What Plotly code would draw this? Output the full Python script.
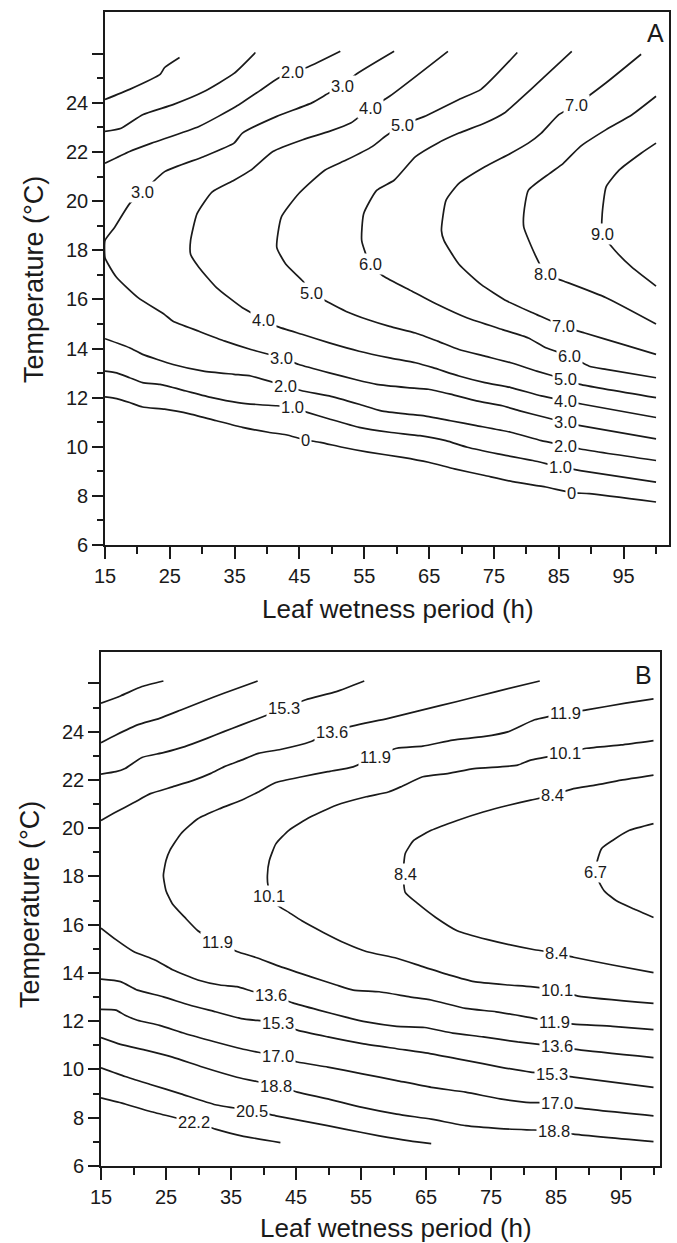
import plotly.graph_objects as go

# ---------------- Panel A: contour lines (leaf wetness h, temperature C) ----------------
a0u_h = [15, 18.8, 23.5, 24.2, 26.5]
a0u_t = [24.14, 24.55, 25.16, 25.44, 25.85]
a0l_h = [15, 16.8, 18.8, 20.8, 24.2, 28.2, 32.2, 36.2, 40.2, 42.9, 45.9, 48.2, 51.6, 55.6, 60.9, 64.9, 68.9, 73.6, 78.3, 83.0, 87.0, 89.7, 100]
a0l_t = [12.03, 11.96, 11.80, 11.62, 11.53, 11.33, 11.06, 10.79, 10.59, 10.49, 10.28, 10.18, 9.98, 9.78, 9.57, 9.37, 9.10, 8.83, 8.56, 8.36, 8.13, 8.09, 7.75]
a1u_h = [15, 17.5, 20.8, 25.5, 30.2, 34.9, 38.2]
a1u_t = [22.84, 22.97, 23.52, 23.93, 24.45, 25.2, 26.05]
a1l_h = [15, 16.8, 18.8, 20.8, 23.5, 27.5, 31.5, 35.5, 38.9, 41.5, 43.9, 46.2, 49.6, 54.2, 58.9, 63.6, 67.6, 70.9, 75.6, 81.0, 85.3, 88.3, 100]
a1l_t = [13.08, 13.01, 12.81, 12.61, 12.54, 12.27, 12.00, 11.80, 11.71, 11.67, 11.60, 11.40, 11.13, 10.79, 10.59, 10.45, 10.25, 9.98, 9.71, 9.44, 9.17, 9.03, 8.56]
a2u_h = [15, 18.8, 22.2, 29.5, 35.2, 38.9, 41.7, 43.9, 46.3, 51.3]
a2u_t = [21.54, 22.02, 22.36, 23.04, 23.85, 24.5, 25.0, 25.26, 25.46, 26.1]
a2l_h = [15, 18.8, 20.8, 25.5, 30.2, 34.9, 37.5, 40.2, 42.9, 45.5, 49.6, 54.2, 57.6, 61.6, 64.3, 68.3, 72.3, 77.6, 82.3, 86.0, 88.3, 100]
a2l_t = [14.40, 14.03, 13.76, 13.35, 13.08, 12.95, 12.88, 12.68, 12.47, 12.27, 12.07, 11.73, 11.46, 11.33, 11.26, 11.06, 10.86, 10.59, 10.25, 10.05, 9.91, 9.44]
a3_h = [59.6, 53.6, 51.6, 49.6, 46.9, 41.5, 36.2, 34.9, 30.2, 24.2, 20.8, 18.8, 16.5, 15.0, 15.0, 15.5, 16.8, 20.1, 24.2, 25.5, 29.5, 33.5, 37.5, 42.2, 44.9, 49.6, 53.6, 56.9, 61.6, 64.9, 68.3, 72.3, 76.3, 79.0, 83.0, 86.0, 88.3, 100]
a3_t = [26.1, 25.14, 24.68, 24.41, 24.0, 23.45, 22.77, 22.36, 21.81, 21.20, 20.37, 19.90, 18.94, 18.4, 17.7, 17.43, 16.89, 16.07, 15.38, 15.11, 14.70, 14.30, 13.96, 13.62, 13.35, 13.01, 12.74, 12.54, 12.41, 12.34, 12.14, 11.87, 11.67, 11.46, 11.19, 10.99, 10.86, 10.32]
a4_h = [67.9, 58.9, 55.9, 52.9, 49.6, 45.5, 40.9, 37.5, 34.9, 31.5, 29.2, 28.2, 28.2, 29.5, 32.2, 36.2, 39.5, 41.5, 45.5, 49.6, 54.2, 58.9, 62.9, 65.6, 69.6, 73.6, 77.6, 82.3, 86.0, 88.7, 100]
a4_t = [26.1, 24.27, 23.78, 23.18, 22.84, 22.50, 22.02, 21.26, 20.85, 20.37, 19.49, 18.39, 17.84, 17.30, 16.48, 15.66, 15.18, 14.90, 14.57, 14.23, 13.89, 13.62, 13.42, 13.22, 12.88, 12.61, 12.41, 12.07, 11.87, 11.73, 11.19]
a5_h = [78.6, 73.0, 69.6, 64.3, 60.9, 58.2, 56.2, 52.2, 48.9, 44.9, 42.2, 41.5, 42.9, 45.5, 46.9, 49.6, 52.2, 55.6, 58.9, 62.9, 66.3, 69.6, 73.6, 77.6, 81.6, 86.0, 88.3, 100]
a5_t = [26.05, 24.55, 24.14, 23.45, 23.11, 22.63, 22.22, 21.67, 21.26, 20.31, 19.35, 18.12, 17.43, 16.75, 16.27, 15.86, 15.51, 15.17, 14.90, 14.63, 14.30, 13.96, 13.69, 13.42, 13.08, 12.74, 12.54, 12.00]
a6_h = [87.0, 82.6, 79.0, 76.6, 73.6, 69.6, 66.3, 62.9, 59.6, 56.9, 54.9, 54.6, 55.9, 57.9, 62.3, 66.3, 70.9, 76.3, 80.3, 83.0, 86.7, 89.7, 92.3, 100]
a6_t = [26.1, 25.02, 24.14, 23.59, 23.18, 22.77, 22.36, 21.81, 20.85, 20.44, 19.49, 18.39, 17.43, 16.95, 16.34, 15.79, 15.24, 14.77, 14.43, 14.03, 13.69, 13.28, 13.15, 12.81]
a7_h = [97.7, 92.3, 87.7, 85.0, 82.3, 80.3, 77.6, 73.6, 69.6, 67.6, 66.9, 67.3, 69.6, 73.0, 77.0, 81.6, 85.7, 89.0, 95.0, 100]
a7_t = [25.98, 24.82, 23.93, 23.52, 22.77, 22.36, 21.95, 21.40, 20.72, 20.03, 18.80, 18.39, 17.43, 16.61, 15.93, 15.38, 14.90, 14.63, 14.16, 13.76]
a8_h = [100, 96.3, 92.3, 88.3, 85.7, 83.6, 80.3, 79.6, 79.6, 81.3, 83.0, 85.7, 92.3, 100]
a8_t = [24.27, 23.52, 22.91, 22.22, 21.54, 21.13, 20.44, 19.49, 18.94, 17.84, 17.02, 16.75, 16.07, 15.0]
a9_h = [100, 97.7, 94.3, 92.3, 91.7, 91.7, 93.7, 96.3, 100]
a9_t = [22.36, 21.95, 21.26, 20.58, 19.49, 18.66, 17.98, 17.30, 16.54]

a_lab_txt = ["2.0", "3.0", "4.0", "5.0", "7.0", "3.0", "9.0", "6.0", "8.0", "5.0", "4.0", "7.0",
             "3.0", "6.0", "2.0", "5.0", "1.0", "4.0", "0", "3.0", "2.0", "1.0", "0"]
a_lab_h = [43.9, 51.6, 55.9, 60.9, 87.7, 20.8, 91.7, 55.9, 83.0, 46.9, 39.5, 85.7,
           42.2, 86.7, 42.9, 86.0, 43.9, 86.0, 45.9, 86.0, 86.0, 85.3, 87.0]
a_lab_t = [25.26, 24.68, 23.78, 23.11, 23.93, 20.37, 18.66, 17.43, 17.02, 16.27, 15.18, 14.90,
           13.62, 13.69, 12.47, 12.74, 11.60, 11.87, 10.28, 10.99, 10.05, 9.17, 8.13]

# ---------------- Panel B ----------------
b188u_h = [15, 18.0, 21.3, 24.6]
b188u_t = [25.18, 25.48, 25.87, 26.1]
b170u_h = [15, 17.3, 20.6, 24.0, 27.3, 30.6, 33.9, 39.1]
b170u_t = [23.54, 23.86, 24.28, 24.55, 24.90, 25.25, 25.59, 26.1]
b153u_h = [15, 17.3, 18.7, 21.3, 24.6, 27.9, 31.3, 33.9, 36.6, 39.9, 43.2, 46.5, 51.2, 55.5]
b153u_t = [22.24, 22.34, 22.47, 22.93, 23.13, 23.38, 23.72, 24.0, 24.28, 24.62, 24.97, 25.32, 25.66, 26.1]
b136u_h = [15, 17.3, 20.0, 22.6, 26.0, 29.3, 31.9, 33.9, 36.6, 39.2, 42.6, 47.2, 50.5, 53.8, 59.2, 64.5, 69.8, 75.8, 82.5]
b136u_t = [20.32, 20.67, 21.05, 21.43, 21.71, 21.99, 22.27, 22.54, 22.82, 23.10, 23.26, 23.58, 24.0, 24.24, 24.55, 24.90, 25.25, 25.66, 26.1]
b119_h = [100, 95.7, 89.7, 86.4, 81.7, 77.7, 73.8, 69.1, 64.5, 60.5, 57.2, 53.8, 49.9, 45.9, 41.9, 39.2, 36.6, 33.3, 29.9, 27.3, 25.6, 25.0, 24.6, 25.0, 26.0, 27.9, 29.9, 32.9, 35.9, 39.2, 42.6, 47.2, 51.2, 53.8, 57.8, 62.5, 65.8, 71.1, 75.8, 80.4, 84.7, 87.7, 93.7, 100]
b119_t = [25.36, 25.18, 24.90, 24.76, 24.49, 24.0, 23.79, 23.65, 23.40, 23.31, 22.96, 22.54, 22.34, 22.13, 21.89, 21.50, 21.16, 20.81, 20.39, 19.77, 19.08, 18.66, 18.04, 17.41, 16.86, 16.30, 15.75, 15.28, 14.89, 14.61, 14.26, 13.85, 13.50, 13.29, 13.22, 13.01, 12.88, 12.53, 12.39, 12.18, 11.97, 11.88, 11.79, 11.65]
b101_h = [100, 95.0, 89.7, 86.4, 81.1, 79.1, 76.4, 72.4, 68.5, 64.5, 61.1, 59.2, 55.8, 51.2, 47.2, 43.9, 41.9, 40.9, 40.6, 40.7, 41.9, 43.9, 45.9, 49.2, 52.5, 55.8, 60.5, 64.5, 68.5, 72.4, 77.7, 81.1, 85.1, 88.4, 100]
b101_t = [23.63, 23.45, 23.31, 23.10, 22.82, 22.61, 22.54, 22.47, 22.27, 22.13, 21.71, 21.50, 21.30, 20.95, 20.46, 19.91, 19.35, 18.66, 18.04, 17.62, 16.86, 16.51, 16.16, 15.68, 15.24, 14.89, 14.61, 14.26, 13.92, 13.64, 13.50, 13.43, 13.29, 13.04, 12.74]
b084_h = [100, 95.0, 91.0, 87.7, 84.4, 81.1, 77.7, 73.8, 69.8, 65.8, 63.1, 61.8, 61.5, 61.8, 63.8, 66.5, 69.8, 74.5, 81.7, 85.1, 87.7, 93.7, 100]
b084_t = [22.20, 21.99, 21.78, 21.64, 21.36, 21.16, 20.95, 20.67, 20.32, 19.91, 19.49, 18.94, 18.11, 17.34, 16.86, 16.30, 15.75, 15.38, 14.96, 14.82, 14.65, 14.33, 14.01]
b067_h = [100, 96.3, 93.7, 92.0, 91.0, 92.4, 94.3, 97.0, 100]
b067_t = [20.19, 19.91, 19.49, 19.15, 18.17, 17.41, 16.99, 16.65, 16.30]
b136l_h = [15, 17.3, 20.0, 23.3, 26.0, 29.9, 33.3, 35.9, 38.6, 41.2, 44.5, 48.5, 52.5, 55.8, 60.5, 64.8, 69.1, 73.8, 79.1, 85.1, 88.4, 100]
b136l_t = [15.86, 15.38, 14.89, 14.54, 14.13, 13.71, 13.50, 13.43, 13.22, 13.08, 12.76, 12.46, 12.18, 11.97, 11.79, 11.74, 11.51, 11.35, 11.14, 10.96, 10.82, 10.49]
b153l_h = [15, 18.0, 20.6, 24.6, 28.6, 32.6, 36.6, 42.2, 45.2, 49.9, 55.2, 60.5, 65.8, 71.1, 76.4, 81.1, 84.4, 87.7, 100]
b153l_t = [13.74, 13.64, 13.29, 13.01, 12.67, 12.39, 12.11, 11.93, 11.63, 11.35, 11.07, 10.86, 10.65, 10.38, 10.10, 9.89, 9.82, 9.68, 9.26]
b170l_h = [15, 17.3, 18.7, 20.6, 24.0, 27.9, 32.6, 36.6, 42.2, 45.2, 49.9, 55.2, 60.5, 65.8, 71.1, 76.4, 80.4, 85.1, 87.7, 100]
b170l_t = [12.49, 12.46, 12.25, 12.04, 11.83, 11.49, 11.14, 10.86, 10.54, 10.31, 10.10, 9.82, 9.54, 9.26, 9.06, 8.78, 8.64, 8.60, 8.43, 8.08]
b188l_h = [15, 18.0, 22.0, 26.0, 30.6, 35.9, 41.9, 45.2, 49.9, 55.2, 60.5, 65.8, 71.1, 76.4, 80.5, 84.7, 87.7, 100]
b188l_t = [11.32, 11.04, 10.79, 10.51, 10.10, 9.68, 9.33, 9.06, 8.78, 8.43, 8.15, 7.94, 7.67, 7.55, 7.50, 7.46, 7.32, 7.01]
b205_h = [15, 18.7, 22.6, 27.3, 32.6, 38.2, 41.9, 47.2, 52.5, 57.8, 62.5, 65.8]
b205_t = [10.07, 9.71, 9.38, 8.99, 8.54, 8.29, 8.08, 7.81, 7.53, 7.25, 7.04, 6.93]
b222_h = [15, 18.7, 22.6, 29.3, 32.6, 36.6, 42.6]
b222_t = [8.82, 8.57, 8.26, 7.81, 7.53, 7.25, 6.97]

b_lab_txt = ["15.3", "13.6", "11.9", "11.9", "10.1", "8.4", "8.4", "10.1", "6.7", "11.9", "8.4", "13.6",
             "10.1", "15.3", "11.9", "17.0", "13.6", "18.8", "15.3", "20.5", "17.0", "22.2", "18.8"]
b_lab_h = [43.2, 50.5, 57.2, 86.4, 86.4, 84.4, 61.8, 40.9, 91.0, 32.9, 85.1, 41.2,
           85.1, 42.2, 84.7, 42.2, 85.1, 41.9, 84.4, 38.2, 85.1, 29.3, 84.7]
b_lab_t = [24.97, 24.0, 22.96, 24.76, 23.10, 21.36, 18.11, 17.20, 18.17, 15.28, 14.82, 13.08,
           13.29, 11.93, 11.97, 10.54, 10.96, 9.33, 9.82, 8.29, 8.60, 7.81, 7.46]

# ---------------- tick labels ----------------
x_ticks = [15, 25, 35, 45, 55, 65, 75, 85, 95]
x_minor = [20, 30, 40, 50, 60, 70, 80, 90, 100]
y_ticks = [6, 8, 10, 12, 14, 16, 18, 20, 22, 24, 26]
y_ticktext = ["6", "8", "10", "12", "14", "16", "18", "20", "22", "24", ""]
y_minor = [7, 9, 11, 13, 15, 17, 19, 21, 23, 25]

# ---------------- figure ----------------
W, H = 677, 1243
INK = "#1a1a1a"
LINE = dict(color=INK, width=1.7, shape="spline", smoothing=0.5)

fig = go.Figure()

a_lines = [(a0u_h, a0u_t), (a0l_h, a0l_t), (a1u_h, a1u_t), (a1l_h, a1l_t), (a2u_h, a2u_t), (a2l_h, a2l_t),
           (a3_h, a3_t), (a4_h, a4_t), (a5_h, a5_t), (a6_h, a6_t), (a7_h, a7_t), (a8_h, a8_t), (a9_h, a9_t)]
b_lines = [(b188u_h, b188u_t), (b170u_h, b170u_t), (b153u_h, b153u_t), (b136u_h, b136u_t), (b119_h, b119_t),
           (b101_h, b101_t), (b084_h, b084_t), (b067_h, b067_t), (b136l_h, b136l_t), (b153l_h, b153l_t),
           (b170l_h, b170l_t), (b188l_h, b188l_t), (b205_h, b205_t), (b222_h, b222_t)]

for hx, ty in a_lines:
    fig.add_trace(go.Scatter(x=hx, y=ty, mode="lines", line=LINE, xaxis="x", yaxis="y",
                             showlegend=False, hoverinfo="skip"))
for hx, ty in b_lines:
    fig.add_trace(go.Scatter(x=hx, y=ty, mode="lines", line=LINE, xaxis="x2", yaxis="y2",
                             showlegend=False, hoverinfo="skip"))

LAB_FONT = dict(family="Liberation Sans, Arial, sans-serif", size=16.5, color=INK)
annotations = []
for txt, hx, ty in zip(a_lab_txt, a_lab_h, a_lab_t):
    annotations.append(dict(x=hx, y=ty, xref="x", yref="y", text=txt, showarrow=False,
                            font=LAB_FONT, bgcolor="white", borderpad=1))
for txt, hx, ty in zip(b_lab_txt, b_lab_h, b_lab_t):
    annotations.append(dict(x=hx, y=ty, xref="x2", yref="y2", text=txt, showarrow=False,
                            font=LAB_FONT, bgcolor="white", borderpad=1))

TITLE_FONT = dict(family="Liberation Sans, Arial, sans-serif", size=26, color=INK)
YT_FONT = dict(family="Liberation Sans, Arial, sans-serif", size=27, color=INK)
LET_FONT = dict(family="Liberation Sans, Arial, sans-serif", size=25, color=INK)
# axis titles and panel letters
annotations += [
    dict(x=398 / W, y=1 - 609 / H, xref="paper", yref="paper", text="Leaf wetness period (h)",
         showarrow=False, font=TITLE_FONT, xanchor="center", yanchor="middle"),
    dict(x=396 / W, y=1 - 1228 / H, xref="paper", yref="paper", text="Leaf wetness period (h)",
         showarrow=False, font=TITLE_FONT, xanchor="center", yanchor="middle"),
    dict(x=34 / W, y=1 - 280 / H, xref="paper", yref="paper", text="Temperature (°C)", textangle=-90,
         showarrow=False, font=YT_FONT, xanchor="center", yanchor="middle"),
    dict(x=30 / W, y=1 - 905 / H, xref="paper", yref="paper", text="Temperature (°C)", textangle=-90,
         showarrow=False, font=YT_FONT, xanchor="center", yanchor="middle"),
    dict(x=655 / W, y=1 - 33 / H, xref="paper", yref="paper", text="A",
         showarrow=False, font=LET_FONT, xanchor="center", yanchor="middle"),
    dict(x=643 / W, y=1 - 675 / H, xref="paper", yref="paper", text="B",
         showarrow=False, font=LET_FONT, xanchor="center", yanchor="middle"),
]

TICK_FONT = dict(family="Liberation Sans Narrow, Arial Narrow, Liberation Sans, sans-serif", size=20, color=INK)

def xax(domain, rng, anchor):
    return dict(domain=domain, range=rng, anchor=anchor, tickmode="array", tickvals=x_ticks,
                ticks="outside", ticklen=12, tickwidth=1.5, tickcolor=INK,
                minor=dict(tickmode="array", tickvals=x_minor, ticks="outside", ticklen=7,
                           tickwidth=1.5, tickcolor=INK),
                showline=True, linecolor=INK, linewidth=1.7, mirror=True,
                showgrid=False, zeroline=False, tickfont=TICK_FONT, automargin=False, fixedrange=True)

def yax(domain, rng, anchor):
    return dict(domain=domain, range=rng, anchor=anchor, tickmode="array", tickvals=y_ticks,
                ticktext=y_ticktext, ticks="outside", ticklen=11, tickwidth=1.5, tickcolor=INK,
                minor=dict(tickmode="array", tickvals=y_minor, ticks="outside", ticklen=6,
                           tickwidth=1.5, tickcolor=INK),
                showline=True, linecolor=INK, linewidth=1.7, mirror=True,
                showgrid=False, zeroline=False, tickfont=TICK_FONT, automargin=False, fixedrange=True)

fig.update_layout(
    width=W, height=H,
    margin=dict(l=0, r=0, t=0, b=0),
    paper_bgcolor="white", plot_bgcolor="white",
    xaxis=xax([105 / W, 669 / W], [15, 102], "y"),
    yaxis=yax([1 - 545 / H, 1 - 12 / H], [6, 27.7], "x"),
    xaxis2=xax([101 / W, 660 / W], [15, 101], "y2"),
    yaxis2=yax([1 - 1166 / H, 1 - 652 / H], [6, 27.3], "x2"),
    annotations=annotations,
    showlegend=False,
)

# remove the browser's default page margin so the figure sits at the window origin
fig.write_html("out.html", config={"displayModeBar": False},
               post_script="document.body.style.margin='0px';document.body.style.overflow='hidden';")
